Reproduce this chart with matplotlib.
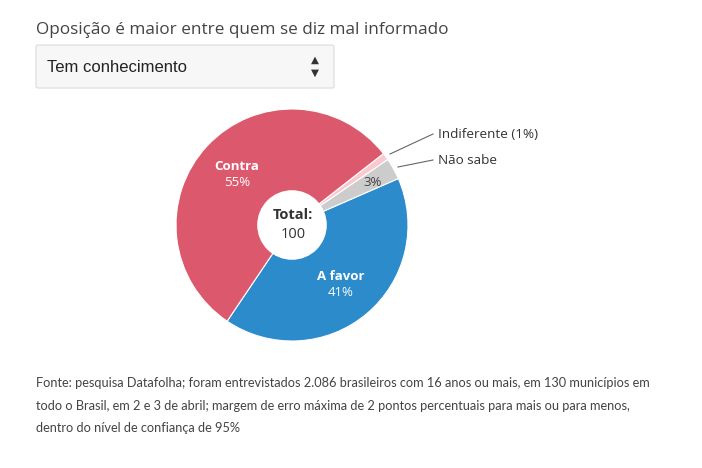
import matplotlib.pyplot as plt
from matplotlib.patches import Circle, FancyBboxPatch

# dados
categorias = ["A favor", "Não sabe", "Indiferente", "Contra"]
valores = [41, 3, 1, 55]
cores = ["#2b8bcb", "#cccccc", "#f9c9cf", "#dc596d"]
total = 100

titulo = "Oposição é maior entre quem se diz mal informado"
opcao = "Tem conhecimento"
fonte = ("Fonte: pesquisa Datafolha; foram entrevistados 2.086 brasileiros com 16 anos ou mais, em 130 municípios em\n"
         "todo o Brasil, em 2 e 3 de abril; margem de erro máxima de 2 pontos percentuais para mais ou para menos,\n"
         "dentro do nível de confiança de 95%")

W, H = 702, 468
fig = plt.figure(figsize=(W / 100, H / 100), dpi=100)

def px(x, y):
    return x / W, 1 - y / H

FONT = "Open Sans"

# titulo
fig.text(*px(36, 30), titulo, fontsize=12.35, color="#444444", family=FONT, va="center")

# caixa do seletor
box_ax = fig.add_axes([0, 0, 1, 1], zorder=0)
box_ax.set_xlim(0, W)
box_ax.set_ylim(H, 0)
box_ax.axis("off")
box_ax.add_patch(FancyBboxPatch((36, 45), 298, 43, boxstyle="round,pad=0,rounding_size=2",
                                facecolor="#f7f7f7", edgecolor="#dcdcdc", lw=0.8))
box_ax.text(47, 67, opcao, fontsize=12, family="Liberation Sans", color="#222222", va="center")
box_ax.text(315, 60, "▲", fontsize=7.5, color="#333333", ha="center", va="center", family="DejaVu Sans")
box_ax.text(315, 73, "▼", fontsize=7.5, color="#333333", ha="center", va="center", family="DejaVu Sans")

# pizza
cx, cy, r = 292, 225, 116
ax = fig.add_axes([(cx - r) / W, 1 - (cy + r) / H, 2 * r / W, 2 * r / H], zorder=1)
wedges, _ = ax.pie(valores, colors=cores, startangle=-124, counterclock=True,
                   radius=1, wedgeprops=dict(edgecolor="white", linewidth=0.8))
ax.set_xlim(-1, 1)
ax.set_ylim(-1, 1)
ax.set_aspect("equal")
ax.axis("off")
ax.add_patch(Circle((0, 0), 0.3, facecolor="white", edgecolor="none", zorder=5))

def to_ax(x, y):
    return (x - cx) / r, (cy - y) / r

ax.text(*to_ax(293, 215), "Total:", fontsize=10.5, fontweight="bold", color="#333333",
        ha="center", va="center", family=FONT, zorder=6)
ax.text(*to_ax(293, 235), str(total), fontsize=10.5, color="#333333",
        ha="center", va="center", family=FONT, zorder=6)

ax.text(*to_ax(237, 166), categorias[3], fontsize=9.5, fontweight="bold", color="white",
        ha="center", va="center", family=FONT)
ax.text(*to_ax(237, 183), f"{valores[3]}%", fontsize=9.5, color="white",
        ha="center", va="center", family=FONT)
ax.text(*to_ax(341, 276), categorias[0], fontsize=9.5, fontweight="bold", color="white",
        ha="center", va="center", family=FONT)
ax.text(*to_ax(341, 292), f"{valores[0]}%", fontsize=9.5, color="white",
        ha="center", va="center", family=FONT)
ax.text(*to_ax(373, 182), f"{valores[1]}%", fontsize=9.5, color="#444444",
        ha="center", va="center", family=FONT)

# rotulos externos
ax.plot(*zip(to_ax(390, 154), to_ax(433, 134)), color="#666666", lw=0.8, clip_on=False)
ax.plot(*zip(to_ax(398, 167), to_ax(433, 160)), color="#666666", lw=0.8, clip_on=False)
ax.text(*to_ax(438, 134), f"{categorias[2]} ({valores[2]}%)", fontsize=9.7, color="#333333",
        va="center", family=FONT, clip_on=False)
ax.text(*to_ax(438, 160), categorias[1], fontsize=9.7, color="#333333",
        va="center", family=FONT, clip_on=False)

# rodape
fig.text(*px(36, 377), fonte, fontsize=9.2, color="#444444", family="Lato", va="top",
         linespacing=2.05)

fig.savefig("out.png", dpi=100)
